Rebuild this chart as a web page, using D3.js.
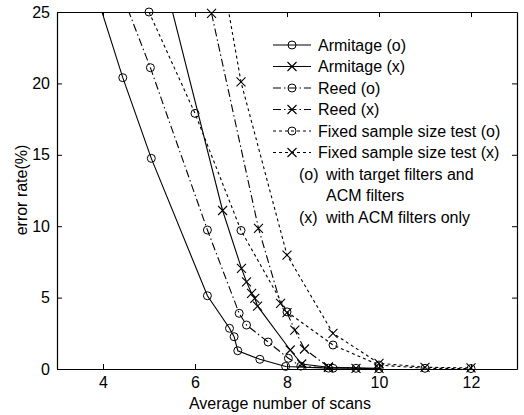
<!DOCTYPE html>
<html>
<head>
<meta charset="utf-8">
<script src="https://cdn.jsdelivr.net/npm/d3@7"></script>
<style>
  body { margin: 0; background: #fff; }
  text { font-family: "Liberation Sans", Arial, sans-serif; fill: #000; }
</style>
</head>
<body>
<script>
// values (points above 25 are only there so the line leaves the top edge)
var xTicks = [4, 6, 8, 10, 12];
var yTicks = [0, 5, 10, 15, 20, 25];

var armitageO_x = [3.85, 4.43, 5.05, 6.27, 6.75, 6.85, 6.93, 7.41, 7.97, 8.9, 9.5, 10.0];
var armitageO_y = [26.3, 20.4, 14.75, 5.13, 2.85, 2.26, 1.28, 0.68, 0.18, 0.06, 0.05, 0.02];

var armitageX_x = [5.3, 6.6, 7.01, 7.12, 7.23, 7.3, 7.36, 8.07, 8.32, 8.9, 10.0];
var armitageX_y = [27.7, 11.1, 7.05, 6.1, 5.3, 4.95, 4.4, 1.33, 0.35, 0.12, 0.05];

var reedO_x = [4.3, 5.03, 6.27, 6.96, 7.12, 7.59, 8.03, 8.3, 9.0];
var reedO_y = [27.2, 21.1, 9.73, 3.9, 3.08, 1.89, 0.75, 0.2, 0.05];

var reedX_x = [6.36, 7.38, 7.86, 8.0, 8.17, 8.38, 8.9, 9.5];
var reedX_y = [24.9, 9.85, 4.6, 3.95, 2.73, 1.4, 0.15, 0.05];

var fixedO_x = [5, 6, 7, 8, 9, 10, 11, 12];
var fixedO_y = [25.0, 17.9, 9.7, 4.0, 1.68, 0.28, 0.05, 0.03];

var fixedX_x = [6, 7, 8, 9, 10, 11, 12];
var fixedX_y = [38.5, 20.1, 7.98, 2.5, 0.4, 0.12, 0.08];

var legendNames = ["Armitage (o)", "Armitage (x)", "Reed (o)", "Reed (x)",
                   "Fixed sample size test (o)", "Fixed sample size test (x)"];
var noteLines = [["(o)", "with target filters and"], ["", "ACM filters"], ["(x)", "with ACM filters only"]];

var series = [
  {x: armitageO_x, y: armitageO_y, mk: "o", dash: null},
  {x: armitageX_x, y: armitageX_y, mk: "x", dash: null},
  {x: reedO_x, y: reedO_y, mk: "o", dash: "8,3,1.5,3"},
  {x: reedX_x, y: reedX_y, mk: "x", dash: "8,3,1.5,3"},
  {x: fixedO_x, y: fixedO_y, mk: "o", dash: "3,3"},
  {x: fixedX_x, y: fixedX_y, mk: "x", dash: "3,3"}
];

var W = 524, H = 415;
var m = {left: 57, right: 7, top: 12, bottom: 46};

var svg = d3.select("body").append("svg")
  .attr("width", W).attr("height", H);

var x = d3.scaleLinear().domain([3, 13]).range([m.left, W - m.right]);
var y = d3.scaleLinear().domain([0, 25]).range([H - m.bottom, m.top]);

svg.append("defs").append("clipPath").attr("id", "plot")
  .append("rect")
  .attr("x", m.left).attr("y", m.top)
  .attr("width", W - m.left - m.right).attr("height", H - m.top - m.bottom);

// axes, MATLAB style: ticks inside, box all round
var tl = 5;
svg.append("g").attr("transform", "translate(0," + y(0) + ")")
  .call(d3.axisBottom(x).tickValues(xTicks).tickSizeInner(-tl).tickSizeOuter(0).tickPadding(8));
svg.append("g").attr("transform", "translate(" + x(3) + ",0)")
  .call(d3.axisLeft(y).tickValues(yTicks).tickSizeInner(-tl).tickSizeOuter(0).tickPadding(7));
svg.append("g").attr("transform", "translate(0," + y(25) + ")")
  .call(d3.axisTop(x).tickValues(xTicks).tickSizeInner(-tl).tickSizeOuter(0).tickFormat(""));
svg.append("g").attr("transform", "translate(" + x(13) + ",0)")
  .call(d3.axisRight(y).tickValues(yTicks).tickSizeInner(-tl).tickSizeOuter(0).tickFormat(""));

svg.selectAll(".domain").attr("stroke", "#000").attr("stroke-width", 1.2);
svg.selectAll(".tick line").attr("stroke", "#000");
svg.selectAll(".tick text").attr("font-size", 16).attr("font-family", "Liberation Sans, Arial, sans-serif");

svg.append("text")
  .attr("x", 280).attr("y", 409)
  .attr("text-anchor", "middle").attr("font-size", 16)
  .text("Average number of scans");

svg.append("text")
  .attr("transform", "translate(27,190) rotate(-90)")
  .attr("text-anchor", "middle").attr("font-size", 16)
  .text("error rate(%)");

function drawMarker(g, type, cx, cy) {
  if (type === "o") {
    g.append("circle").attr("cx", cx).attr("cy", cy).attr("r", 4)
      .attr("fill", "none").attr("stroke", "#000").attr("stroke-width", 1);
  } else {
    var s = 4.5;
    g.append("path")
      .attr("d", "M" + (cx - s) + "," + (cy - s) + "L" + (cx + s) + "," + (cy + s) +
                 "M" + (cx - s) + "," + (cy + s) + "L" + (cx + s) + "," + (cy - s))
      .attr("stroke", "#000").attr("stroke-width", 1.1).attr("fill", "none");
  }
}

var line = d3.line().x(function(d) { return x(d[0]); }).y(function(d) { return y(d[1]); });

var plot = svg.append("g");
series.forEach(function(s) {
  var pts = d3.zip(s.x, s.y);
  plot.append("path").datum(pts)
    .attr("clip-path", "url(#plot)")
    .attr("d", line)
    .attr("fill", "none").attr("stroke", "#000").attr("stroke-width", 1.1)
    .attr("stroke-dasharray", s.dash);
  pts.forEach(function(p) {
    if (p[1] <= 25.05) drawMarker(plot, s.mk, x(p[0]), y(p[1]));
  });
});

// legend
var lg = svg.append("g");
var row0 = 45, rowH = 21.5;
series.forEach(function(s, i) {
  var cy = row0 + i * rowH;
  lg.append("line").attr("x1", 273).attr("x2", 311).attr("y1", cy).attr("y2", cy)
    .attr("stroke", "#000").attr("stroke-width", 1.1).attr("stroke-dasharray", s.dash);
  drawMarker(lg, s.mk, 292, cy);
  lg.append("text").attr("x", 318).attr("y", cy + 5.5).attr("font-size", 16).text(legendNames[i]);
});
noteLines.forEach(function(n, j) {
  var cy = row0 + (6 + j) * rowH;
  lg.append("text").attr("x", 299).attr("y", cy + 5.5).attr("font-size", 16).text(n[0]);
  lg.append("text").attr("x", 326).attr("y", cy + 5.5).attr("font-size", 16).text(n[1]);
});
</script>
</body>
</html>
